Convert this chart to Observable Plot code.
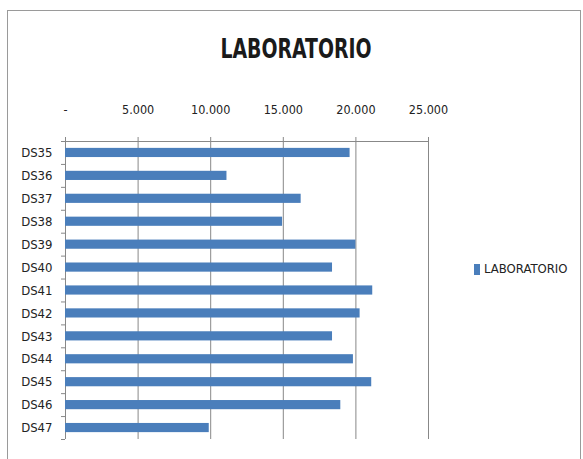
<!DOCTYPE html>
<html>
<head>
<meta charset="utf-8">
<script src="https://cdn.jsdelivr.net/npm/d3@7"></script>
<script src="https://cdn.jsdelivr.net/npm/@observablehq/plot@0.6"></script>
<style>
  body { margin: 0; background: #fff; }
  #wrap { position: relative; width: 583px; height: 459px; background: #fff; overflow: hidden;
          font-family: "DejaVu Sans Condensed", "Liberation Sans", sans-serif; }
  #border { position: absolute; left: 7px; top: 10px; width: 574px; height: 455px; border: 1px solid #9a9a9a; box-sizing: border-box; }
  #title { position: absolute; left: 0; width: 592px; top: 33px; text-align: center; font-weight: bold; font-size: 21px; line-height: 24px; color: #1a1a1a; transform: scaleY(1.3); transform-origin: 50% 0; }
  #legend { position: absolute; left: 474px; top: 261px; font-size: 13px; line-height: 16px; color: #222; display: flex; align-items: center; }
  #legend .sw { width: 6px; height: 11px; background: #4a7ebb; margin-right: 4px; }
  #chart { position: absolute; left: 0; top: 0; }
</style>
</head>
<body>
<div id="wrap">
  <div id="border"></div>
  <div id="chart"></div>
  <div id="title">LABORATORIO</div>
  <div id="legend"><span class="sw"></span><span>LABORATORIO</span></div>
</div>
<script>
const categories = ["DS35","DS36","DS37","DS38","DS39","DS40","DS41","DS42","DS43","DS44","DS45","DS46","DS47"];
const values = [19600, 11120, 16230, 14950, 20000, 18390, 21160, 20290, 18390, 19830, 21090, 18960, 9900];
const xTicks = [0, 5000, 10000, 15000, 20000, 25000];
const seriesName = "LABORATORIO";

const data = categories.map((c, i) => ({cat: c, value: values[i]}));
const fmt = d3.formatLocale({decimal: ",", thousands: ".", grouping: [3], currency: ["", ""]}).format(",");
const tickFormat = d => d === 0 ? "-" : fmt(d);

const W = 583, H = 459, mTop = 141, mBottom = 20, mLeft = 65, mRight = 155;
const bw = (H - mTop - mBottom) / categories.length;
const xMax = xTicks[xTicks.length - 1];
const tickLen = 4 * xMax / (W - mLeft - mRight);

const chart = Plot.plot({
  width: W,
  height: H,
  marginTop: mTop,
  marginBottom: mBottom,
  marginLeft: mLeft,
  marginRight: mRight,
  style: {fontFamily: '"DejaVu Sans Condensed", sans-serif', fontSize: "13px", color: "#222", background: "transparent", overflow: "visible"},
  x: {domain: [0, xMax], label: null},
  y: {domain: categories, paddingInner: 0.6, paddingOuter: 0.3, align: 0.5, round: false, label: null},
  marks: [
    Plot.gridX(xTicks, {stroke: "#888", strokeOpacity: 1, strokeWidth: 1}),
    Plot.axisX(xTicks, {anchor: "top", tickSize: 5, tickPadding: 23, tickFormat, stroke: "#888", fill: "#222", label: null, fontSize: 12.5}),
    Plot.ruleY([categories[0]], {x1: 0, x2: xMax, dy: -bw / 2, stroke: "#888"}),
    Plot.axisY({tickSize: 0, tickPadding: 13, fill: "#222", label: null}),
    Plot.ruleY(categories, {x1: -tickLen, x2: 0, dy: -bw / 2, stroke: "#888", clip: false}),
    Plot.ruleY([categories[categories.length - 1]], {x1: -tickLen, x2: 0, dy: bw / 2, stroke: "#888", clip: false}),
    Plot.barX(data, {x: "value", y: "cat", fill: "#4a7ebb"})
  ]
});
document.getElementById("chart").appendChild(chart);
</script>
</body>
</html>
